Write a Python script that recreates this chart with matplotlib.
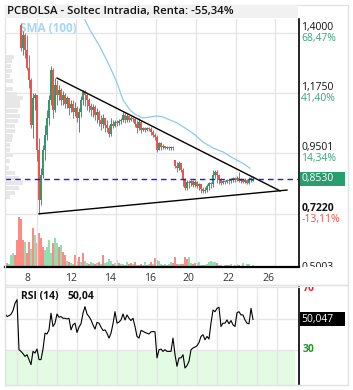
import matplotlib
matplotlib.use('Agg')
import matplotlib.pyplot as plt
from matplotlib.patches import Rectangle

plt.rcParams['font.family'] = ['Open Sans', 'DejaVu Sans']

# ---------------- data ----------------
title = "PCBOLSA - Soltec Intradia, Renta: -55,34%"
candle_start = 2  # bar index of first visible candle
opens = [1.430, 1.344, 1.393, 1.336, 1.269, 1.224, 1.055, 1.156, 1.168, 0.961,
         0.774, 0.868, 0.961, 1.018, 1.081, 1.149, 1.261, 1.111, 1.205, 1.168,
         1.186, 1.149, 1.168, 1.134, 1.156, 1.119, 1.134, 1.104, 1.119, 1.081,
         1.104, 1.149, 1.179, 1.168, 1.149, 1.126, 1.111, 1.123, 1.093, 1.104,
         1.074, 1.059, 1.081, 1.055, 1.044, 1.021, 1.059, 1.051, 1.066, 1.063,
         1.070, 1.074, 1.093, 1.074, 1.089, 1.074, 1.081, 1.078, 1.059, 1.044,
         1.066, 1.036, 1.044, 1.036, 1.044, 1.040, 1.029, 1.018, 1.010, 0.961,
         0.988, 0.973, 0.976, 0.969, 0.973, 0.969, 0.973, 0.924, 0.901, 0.894,
         0.913, 0.886, 0.849, 0.819, 0.841, 0.838, 0.845, 0.830, 0.841, 0.826,
         0.834, 0.815, 0.808, 0.811, 0.826, 0.838, 0.834, 0.868, 0.879, 0.868,
         0.849, 0.838, 0.845, 0.841, 0.849, 0.845, 0.853, 0.856, 0.849, 0.856,
         0.845, 0.849, 0.841, 0.849, 0.838, 0.853, 0.845]
highs = [1.438, 1.407, 1.400, 1.393, 1.318, 1.231, 1.175, 1.175, 1.168, 1.006,
         0.894, 0.980, 1.055, 1.111, 1.168, 1.276, 1.269, 1.231, 1.224, 1.205,
         1.194, 1.183, 1.175, 1.164, 1.156, 1.149, 1.149, 1.141, 1.126, 1.119,
         1.164, 1.186, 1.186, 1.175, 1.156, 1.138, 1.134, 1.130, 1.119, 1.111,
         1.093, 1.096, 1.081, 1.074, 1.055, 1.081, 1.074, 1.074, 1.074, 1.078,
         1.081, 1.104, 1.100, 1.096, 1.089, 1.089, 1.085, 1.081, 1.074, 1.081,
         1.074, 1.048, 1.048, 1.048, 1.048, 1.048, 1.036, 1.025, 1.018, 0.991,
         0.991, 0.984, 0.976, 0.976, 0.976, 0.976, 0.976, 0.924, 0.916, 0.920,
         0.913, 0.894, 0.856, 0.849, 0.849, 0.849, 0.849, 0.849, 0.845, 0.838,
         0.834, 0.823, 0.823, 0.834, 0.841, 0.841, 0.886, 0.886, 0.886, 0.871,
         0.856, 0.849, 0.849, 0.853, 0.853, 0.856, 0.860, 0.860, 0.864, 0.879,
         0.856, 0.853, 0.856, 0.853, 0.860, 0.860, 0.864]
lows = [1.333, 1.318, 1.306, 1.261, 1.194, 1.044, 1.006, 1.111, 0.920, 0.722,
        0.755, 0.856, 0.924, 0.999, 1.055, 1.130, 1.081, 1.104, 1.130, 1.149,
        1.130, 1.130, 1.119, 1.119, 1.093, 1.104, 1.081, 1.089, 1.066, 1.029,
        1.085, 1.130, 1.126, 1.111, 1.104, 1.089, 1.085, 1.074, 1.063, 1.051,
        1.036, 1.044, 1.029, 1.029, 1.010, 1.014, 1.044, 1.048, 1.051, 1.055,
        1.059, 1.066, 1.063, 1.066, 1.066, 1.070, 1.066, 1.048, 1.025, 1.036,
        1.025, 1.033, 1.029, 1.033, 1.033, 1.018, 1.010, 0.999, 0.954, 0.961,
        0.961, 0.965, 0.965, 0.965, 0.961, 0.961, 0.961, 0.894, 0.879, 0.886,
        0.879, 0.826, 0.811, 0.811, 0.819, 0.826, 0.823, 0.823, 0.819, 0.811,
        0.800, 0.800, 0.800, 0.804, 0.811, 0.819, 0.823, 0.856, 0.838, 0.834,
        0.830, 0.834, 0.834, 0.838, 0.834, 0.838, 0.841, 0.841, 0.845, 0.841,
        0.838, 0.838, 0.838, 0.834, 0.834, 0.841, 0.845]
closes = [1.344, 1.393, 1.336, 1.269, 1.224, 1.055, 1.156, 1.168, 0.961, 0.774,
          0.868, 0.961, 1.018, 1.081, 1.149, 1.261, 1.111, 1.205, 1.168, 1.186,
          1.149, 1.168, 1.134, 1.156, 1.119, 1.134, 1.104, 1.119, 1.081, 1.104,
          1.149, 1.179, 1.168, 1.149, 1.126, 1.111, 1.123, 1.093, 1.104, 1.074,
          1.059, 1.081, 1.055, 1.044, 1.021, 1.059, 1.051, 1.066, 1.063, 1.070,
          1.074, 1.093, 1.074, 1.089, 1.074, 1.081, 1.078, 1.059, 1.044, 1.066,
          1.036, 1.044, 1.036, 1.044, 1.040, 1.029, 1.018, 1.010, 0.961, 0.988,
          0.973, 0.976, 0.969, 0.973, 0.969, 0.973, 0.969, 0.901, 0.894, 0.913,
          0.886, 0.849, 0.819, 0.841, 0.838, 0.845, 0.830, 0.841, 0.826, 0.834,
          0.815, 0.808, 0.811, 0.826, 0.838, 0.834, 0.868, 0.879, 0.868, 0.849,
          0.838, 0.845, 0.841, 0.849, 0.845, 0.853, 0.856, 0.849, 0.856, 0.845,
          0.849, 0.841, 0.849, 0.838, 0.853, 0.856, 0.853]

vol_start = -6
volumes = [5, 4, 3, 12, 14, 12, 27, 50, 48, 27, 25, 14, 25, 18, 39, 32, 24, 34, 29, 20,
           17, 20, 27, 14, 24, 29, 24, 20, 22, 15, 12, 6, 5, 4, 3, 12, 6, 10, 5, 14,
           6, 4, 3, 5, 4, 3, 4, 5, 3, 12, 4, 5, 8, 6, 3, 4, 7, 4, 3, 3,
           2, 5, 3, 4, 3, 5, 2, 2, 3, 2, 5, 2, 3,
           5, 3, 9, 7, 6, 3, 2, 3, 2, 3, 5, 4, 10, 3, 3, 3, 3, 10, 8, 10,
           4, 3, 4, 4, 5, 2, 2, 2, 3, 5, 6, 5, 5, 4, 2, 2, 1, 2, 2, 2,
           3, 1, 2, 3, 2, 1, 4, 1, 3, 3, 1, 2]
vol_dir = ("grgggrrrrr" "grrgrgrrrr" "ggggrggrgr" "rgrggrgrgr" "ggrggrgrgr"
           "ggggrggrgg" "rgrrgrggrg" "grg"
           "rgrrggrggg" "grrrgrrrrg" "grrgggrggg" "gggrggggrg" "ggggrggggg" "gg")

rsi_start = -6
rsi = [54.1, 51.9, 52.5, 53.4, 55.8, 60.6, 63.0, 30.2, 29.1, 27.6,
       25.8, 26.9, 23.7, 20.4, 29.1, 28.0, 30.6, 23.7, 23.7, 30.6,
       41.0, 40.5, 43.2, 54.1, 45.4, 47.6, 53.6, 51.5, 51.9, 50.8,
       50.8, 50.4, 50.8, 43.2, 46.5, 47.6, 41.5, 45.0, 47.2, 54.1,
       58.4, 53.6, 51.9, 49.7, 46.5, 43.7, 48.1, 47.6, 45.0, 42.8,
       43.2, 41.0, 37.8, 41.0, 47.2, 55.1, 47.6, 48.3, 49.7, 53.6,
       49.7, 53.0, 50.8, 49.3, 50.8, 45.4, 38.9, 37.8, 42.8, 42.3,
       41.5, 41.0, 40.5, 41.9, 42.1, 41.9, 24.8, 30.2, 30.6, 29.1,
       30.2, 29.1, 29.1, 29.1, 37.8, 26.9, 19.3, 24.8, 24.8, 26.9,
       18.2, 19.8, 22.6, 30.2, 31.3, 31.9, 32.8, 34.9, 38.9, 40.0,
       36.7, 38.9, 37.2, 47.6, 56.2, 55.1, 57.3, 58.0, 45.4, 47.6,
       47.6, 49.7, 47.2, 49.3, 46.5, 45.4, 54.5, 55.1, 53.0, 53.0,
       49.7, 47.6, 47.2, 57.3, 50.04]

sma_x = [33, 34, 36.5, 41.5, 46.5, 50, 53, 56.5, 59.5, 63, 66.5, 70, 73, 76.5, 80,
         84, 89, 93, 98, 103, 108, 113, 116.5]
sma_y = [1.48, 1.449, 1.411, 1.348, 1.273, 1.213, 1.149, 1.111, 1.093, 1.081, 1.085,
         1.089, 1.085, 1.074, 1.063, 1.044, 1.018, 0.991, 0.969, 0.954, 0.931, 0.911, 0.893]

upper_trend_x = [20, 131.5]
upper_trend_y = [1.231, 0.808]
lower_trend_x = [11, 135]
lower_trend_y = [0.722, 0.811]

last_price = 0.853
prof_prices = [1.310, 1.295, 1.276, 1.258, 1.239, 1.220, 1.190, 1.171, 1.156, 1.141,
               1.126, 1.108, 1.089, 1.070, 1.051, 1.033, 1.014, 0.999, 0.980, 0.961,
               0.943, 0.920, 0.894, 0.875, 0.856, 0.838, 0.819, 0.800, 0.786]
prof_vol = [9, 7, 6, 7, 5, 8, 8, 12, 18, 15, 15, 13, 15, 13, 10, 10, 8, 7, 5, 5,
            8, 5, 4, 10, 14, 18, 14, 10, 5]

xtick_pos = [5.25, 27, 46.5, 66.5, 85.5, 105.5, 125.5]
xtick_labels = ['8', '12', '14', '16', '20', '22', '26']
price_levels = [1.4000, 1.1750, 0.9501, 0.7220, 0.5003]
price_texts = ['1,4000', '1,1750', '0,9501', '0,7220', '0,5003']
pct_texts = ['68,47%', '41,40%', '14,34%', '-13,11%', '']

# ---------------- style ----------------
W, H = 353, 390
RED, GREEN = '#f4504a', '#2b9c6a'
VRED, VGREEN = '#ff8a85', '#8ee0b0'
GRID = '#e6e6e6'
FRAME = '#e2e2e2'

def fx(px):
    return px / W

def fy(py):
    return 1 - py / H

fig = plt.figure(figsize=(W / 100, H / 100), dpi=100)
fig.patch.set_facecolor('white')

# outer frames
fig.patches.append(Rectangle((fx(5), fy(285)), fx(348) - fx(5), fy(5) - fy(285),
                             transform=fig.transFigure, fill=False, ec=FRAME, lw=1))
fig.patches.append(Rectangle((fx(5), fy(385)), fx(348) - fx(5), fy(285) - fy(385),
                             transform=fig.transFigure, fill=False, ec=FRAME, lw=1))

# title bar
fig.patches.append(Rectangle((fx(5), fy(18)), fx(298) - fx(5), fy(5) - fy(18),
                             transform=fig.transFigure, fc='#f1f1f1', ec='none'))
fig.text(fx(7), fy(11.5), title, fontsize=8.2, fontweight='semibold', va='center',
         ha='left', color='#111111')

YLIM = (0.5225, 1.4525)
XLIM = (-6, 141)
main_rect = [fx(5), fy(267), fx(299) - fx(5), fy(19) - fy(267)]
vax = fig.add_axes(main_rect)
ax = fig.add_axes(main_rect)
ax.patch.set_visible(False)

# volume
vx = [vol_start + i for i in range(len(volumes))]
vcol = [VGREEN if d == 'g' else VRED for d in vol_dir]
vax.bar(vx, volumes, width=0.8, color=vcol, linewidth=0)
vax.set_xlim(*XLIM)
vax.set_ylim(0, 248)
vax.axis('off')

# grid
for gx in [10, 29.5, 49.5, 69.5, 89.5, 109.5, 129]:
    ax.axvline(gx, color=GRID, lw=1, zorder=0)
for p in price_levels[:4]:
    ax.axhline(p, color=GRID, lw=1, zorder=0)

# volume profile
ax.barh(prof_prices, [v / 2 for v in prof_vol], left=XLIM[0], height=0.014,
        color='#e7e7e7', zorder=1, linewidth=0)

# SMA
ax.plot(sma_x, sma_y, color='#8fc9f3', lw=0.9, zorder=2)
ax.text(fx(20), fy(28), 'SMA (100)', transform=fig.transFigure, color='#a9d5f6',
        fontsize=8.5, fontweight='bold', va='center', ha='left', zorder=1.5)

# candles
cx = [candle_start + i for i in range(len(closes))]
for x, o, h, l, c in zip(cx, opens, highs, lows, closes):
    col = GREEN if c >= o else RED
    ax.vlines(x, l, h, color=col, lw=0.7, zorder=3)
    bot, top = min(o, c), max(o, c)
    ax.bar(x, max(top - bot, 0.002), bottom=bot, width=0.8, color=col,
           linewidth=0, zorder=3)

# trend lines
ax.plot(upper_trend_x, upper_trend_y, color='black', lw=1, zorder=4)
ax.plot(lower_trend_x, lower_trend_y, color='black', lw=1, zorder=4)
ax.axhline(last_price, color='#1a1aff', lw=1, ls=(0, (4, 3)), zorder=4)

ax.set_xlim(*XLIM)
ax.set_ylim(*YLIM)
ax.set_yticks([])
ax.set_xticks(xtick_pos, xtick_labels)
ax.tick_params(axis='x', length=0, pad=4, labelsize=7.5, labelcolor='#333333')
for s in ['top', 'left']:
    ax.spines[s].set_visible(False)
ax.spines['right'].set_color('black')
ax.spines['right'].set_linewidth(1.2)
ax.spines['bottom'].set_color('black')
ax.spines['bottom'].set_linewidth(1.6)

# right price labels
lab = fig.add_axes([fx(299), fy(267), fx(353) - fx(299), fy(19) - fy(267)])
lab.set_xlim(0, 1)
lab.set_ylim(*YLIM)
lab.axis('off')
for p, t, pc in zip(price_levels, price_texts, pct_texts):
    bold = (t == '0,7220')
    lab.annotate(t, (0.04, p), xytext=(0, 3.8), textcoords='offset points',
                 fontsize=7.5, color='#111111', va='center', ha='left',
                 fontweight='bold' if bold else 'normal', annotation_clip=False,
                 clip_on=True)
    if pc:
        pcol = RED if pc.startswith('-') else '#3aa57a'
        lab.annotate(pc, (0.04, p), xytext=(0, -4.2), textcoords='offset points',
                     fontsize=7.5, color=pcol, va='center', ha='left',
                     clip_on=True)
lab.add_patch(Rectangle((0.02, last_price - 0.027), 0.84, 0.054, fc='#2a9d6e',
                        ec='none'))
lab.text(0.05, last_price, '0,8530', color='white', fontsize=7.5, va='center',
         ha='left')

# ---------------- RSI ----------------
RYLIM = (7.05, 71.3)
rsi_rect = [fx(5), fy(385), fx(299) - fx(5), fy(287) - fy(385)]
rax = fig.add_axes(rsi_rect)
rax.axhspan(RYLIM[0], 30, xmin=0, xmax=290 / 294, color='#e3fbe3', zorder=0, lw=0)
for gx in range(0, 140, 10):
    rax.axvline(gx, color=GRID, lw=1, zorder=0.5)
rax.axhline(50, color=GRID, lw=1, zorder=0.5)
rax.axhline(30, color=GRID, lw=1, zorder=0.5)
rx = [rsi_start + i for i in range(len(rsi))]
rax.plot(rx, rsi, color='black', lw=0.8, zorder=3)
rax.set_xlim(*XLIM)
rax.set_ylim(*RYLIM)
rax.set_xticks([])
rax.set_yticks([])
for s in ['top', 'left', 'bottom']:
    rax.spines[s].set_color(FRAME)
rax.spines['right'].set_color('black')
rax.spines['right'].set_linewidth(1.2)
fig.text(fx(21), fy(296), 'RSI (14)', fontsize=7.5, fontweight='bold',
         va='center', ha='left', color='#111111')
fig.text(fx(68), fy(296), '50,04', fontsize=7.5, fontweight='bold',
         va='center', ha='left', color='#111111')

rlab = fig.add_axes([fx(299), fy(385), fx(353) - fx(299), fy(287) - fy(385)])
rlab.set_xlim(0, 1)
rlab.set_ylim(*RYLIM)
rlab.axis('off')
rlab.text(0.07, 70, '70', color='#e8262a', fontsize=7.5, fontweight='bold',
          va='center', ha='left', clip_on=True)
rlab.text(0.07, 30, '30', color='#1e9a1e', fontsize=7.5, fontweight='bold',
          va='center', ha='left')
rlab.add_patch(Rectangle((0.02, rsi[-1] - 4.6), 0.84, 9.2, fc='black', ec='none'))
rlab.text(0.05, rsi[-1], '50,047', color='white', fontsize=7.5, va='center',
          ha='left')

fig.savefig('out.png', dpi=100)
